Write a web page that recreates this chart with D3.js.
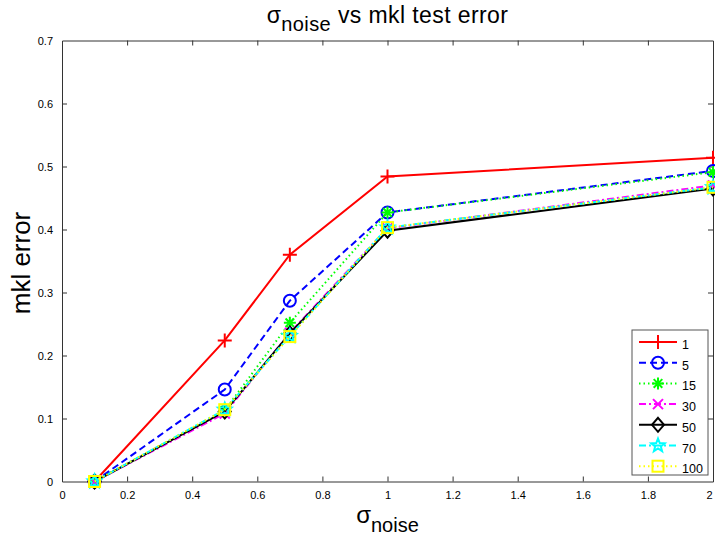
<!DOCTYPE html>
<html>
<head>
<meta charset="utf-8">
<script src="https://cdn.jsdelivr.net/npm/d3@7"></script>
<style>
  html, body { margin: 0; padding: 0; background: #fff; }
  svg { display: block; font-family: "Liberation Sans", Arial, sans-serif; }
</style>
</head>
<body>
<svg id="chart" width="715" height="540"></svg>
<script>
// noise levels on the x axis
const sigma = [0.1, 0.5, 0.7, 1, 2];

// test error for each number of kernels
const seriesNames = ["1", "5", "15", "30", "50", "70", "100"];
const err1   = [0, 0.224, 0.360, 0.484, 0.514];
const err5   = [0, 0.146, 0.287, 0.427, 0.493];
const err15  = [0, 0.113, 0.252, 0.427, 0.491];
const err30  = [0, 0.108, 0.236, 0.402, 0.470];
const err50  = [0, 0.111, 0.235, 0.398, 0.465];
const err70  = [0, 0.114, 0.231, 0.403, 0.467];
const err100 = [0, 0.114, 0.230, 0.403, 0.467];

const xTicks = [0, 0.2, 0.4, 0.6, 0.8, 1, 1.2, 1.4, 1.6, 1.8, 2];
const yTicks = [0, 0.1, 0.2, 0.3, 0.4, 0.5, 0.6, 0.7];

const styles = [
  { color: "#ff0000", dash: null,       marker: "plus" },
  { color: "#0000ff", dash: "7,4",      marker: "circle" },
  { color: "#00ff00", dash: "1.5,3",    marker: "asterisk" },
  { color: "#ff00ff", dash: "7,3,2,3",  marker: "cross" },
  { color: "#000000", dash: null,       marker: "diamond" },
  { color: "#00ffff", dash: "7,3,2,3",  marker: "star" },
  { color: "#ffff00", dash: "1.5,3",    marker: "square" }
];
const allSeries = [err1, err5, err15, err30, err50, err70, err100];

const svg = d3.select("#chart");
const plotLeft = 62, plotRight = 713, plotTop = 40.5, plotBottom = 481.5;
const plotMid = (plotLeft + plotRight) / 2;

const x = d3.scaleLinear().domain([0, 2]).range([plotLeft, plotRight]);
const y = d3.scaleLinear().domain([0, 0.7]).range([plotBottom, plotTop]);

// axes frame with inward ticks
const tickLen = 5;
const axisColor = "#333";
const g = svg.append("g");

const xb = g.append("g").attr("transform", `translate(0,${plotBottom})`)
  .call(d3.axisBottom(x).tickValues(xTicks).tickFormat(d3.format("~g")).tickSizeInner(-tickLen).tickSizeOuter(0).tickPadding(10));
const xt = g.append("g").attr("transform", `translate(0,${plotTop})`)
  .call(d3.axisTop(x).tickValues(xTicks).tickFormat("").tickSizeInner(-tickLen).tickSizeOuter(0));
const yl = g.append("g").attr("transform", `translate(${plotLeft},0)`)
  .call(d3.axisLeft(y).tickValues(yTicks).tickFormat(d3.format("~g")).tickSizeInner(-tickLen).tickSizeOuter(0).tickPadding(9));
const yr = g.append("g").attr("transform", `translate(${plotRight},0)`)
  .call(d3.axisRight(y).tickValues(yTicks).tickFormat("").tickSizeInner(-tickLen).tickSizeOuter(0));

[xb, xt, yl, yr].forEach(a => {
  a.selectAll("path").attr("stroke", axisColor);
  a.selectAll("line").attr("stroke", axisColor);
  a.selectAll("text").attr("fill", "#000").style("font-size", "11px");
});
// the last x label sits at the window edge; keep it fully inside
xb.selectAll(".tick").filter(d => d === 2).select("text").attr("text-anchor", "end").attr("dx", "-1");
// hide end ticks that coincide with the frame
xb.selectAll(".tick").filter(d => d === 0 || d === 2).select("line").remove();
xt.selectAll(".tick").filter(d => d === 0 || d === 2).select("line").remove();
yl.selectAll(".tick").filter(d => d === 0 || d === 0.7).select("line").remove();
yr.selectAll(".tick").filter(d => d === 0 || d === 0.7).select("line").remove();

// marker shapes
function drawMarker(sel, type, color, cx, cy) {
  const m = sel.append("g").attr("transform", `translate(${cx},${cy})`)
    .attr("fill", "none").attr("stroke", color).attr("stroke-width", 2);
  if (type === "plus") {
    m.append("path").attr("d", "M-7,0H7M0,-7V7");
  } else if (type === "circle") {
    m.append("circle").attr("r", 6);
  } else if (type === "asterisk") {
    m.append("path").attr("d", "M-6,0H6M0,-6V6M-4.3,-4.3L4.3,4.3M-4.3,4.3L4.3,-4.3");
  } else if (type === "cross") {
    m.append("path").attr("d", "M-5,-5L5,5M-5,5L5,-5");
  } else if (type === "diamond") {
    m.append("path").attr("d", "M0,-7L6,0L0,7L-6,0Z");
  } else if (type === "star") {
    const pts = d3.range(10).map(i => {
      const r = i % 2 === 0 ? 7 : 3;
      const a = -Math.PI / 2 + i * Math.PI / 5;
      return [r * Math.cos(a), r * Math.sin(a)];
    });
    m.append("path").attr("d", "M" + pts.join("L") + "Z");
  } else if (type === "square") {
    m.append("rect").attr("x", -5.5).attr("y", -5.5).attr("width", 11).attr("height", 11);
  }
}

const line = d3.line().x((d, i) => x(sigma[i])).y(d => y(d));
const plot = svg.append("g");
allSeries.forEach((vals, k) => {
  const s = styles[k];
  plot.append("path").datum(vals).attr("d", line)
    .attr("fill", "none").attr("stroke", s.color).attr("stroke-width", 2)
    .attr("stroke-dasharray", s.dash);
  vals.forEach((v, i) => drawMarker(plot, s.marker, s.color, x(sigma[i]), y(v)));
});

// legend
const lg = svg.append("g");
const lx = 632, ly = 330, lw = 76, lh = 145;
lg.append("rect").attr("x", lx).attr("y", ly).attr("width", lw).attr("height", lh)
  .attr("fill", "#fff").attr("stroke", "#555").attr("stroke-width", 1);
seriesNames.forEach((name, k) => {
  const s = styles[k];
  const cy = ly + 12 + k * 20.7;
  lg.append("line").attr("x1", lx + 7).attr("x2", lx + 45).attr("y1", cy).attr("y2", cy)
    .attr("stroke", s.color).attr("stroke-width", 2).attr("stroke-dasharray", s.dash);
  drawMarker(lg, s.marker, s.color, lx + 26, cy);
  lg.append("text").attr("x", lx + 50).attr("y", cy + 7).text(name)
    .style("font-size", "12.5px").attr("fill", "#000");
});

// title and axis labels
const title = svg.append("text").attr("x", plotMid).attr("y", 23).attr("text-anchor", "middle")
  .style("font-size", "23px").style("letter-spacing", "0.4px").attr("fill", "#000");
title.append("tspan").text("σ");
title.append("tspan").attr("dy", 8).style("font-size", "20px").text("noise");
title.append("tspan").attr("dy", -8).text(" vs mkl test error");

const xl = svg.append("text").attr("x", plotMid).attr("y", 523).attr("text-anchor", "middle")
  .style("font-size", "24px").attr("fill", "#000");
xl.append("tspan").text("σ");
xl.append("tspan").attr("dy", 9).style("font-size", "20px").text("noise");

svg.append("text").attr("transform", `translate(30,${(plotTop + plotBottom) / 2 + 2}) rotate(-90)`).attr("text-anchor", "middle")
  .style("font-size", "26px").attr("fill", "#000").text("mkl error");
</script>
</body>
</html>
